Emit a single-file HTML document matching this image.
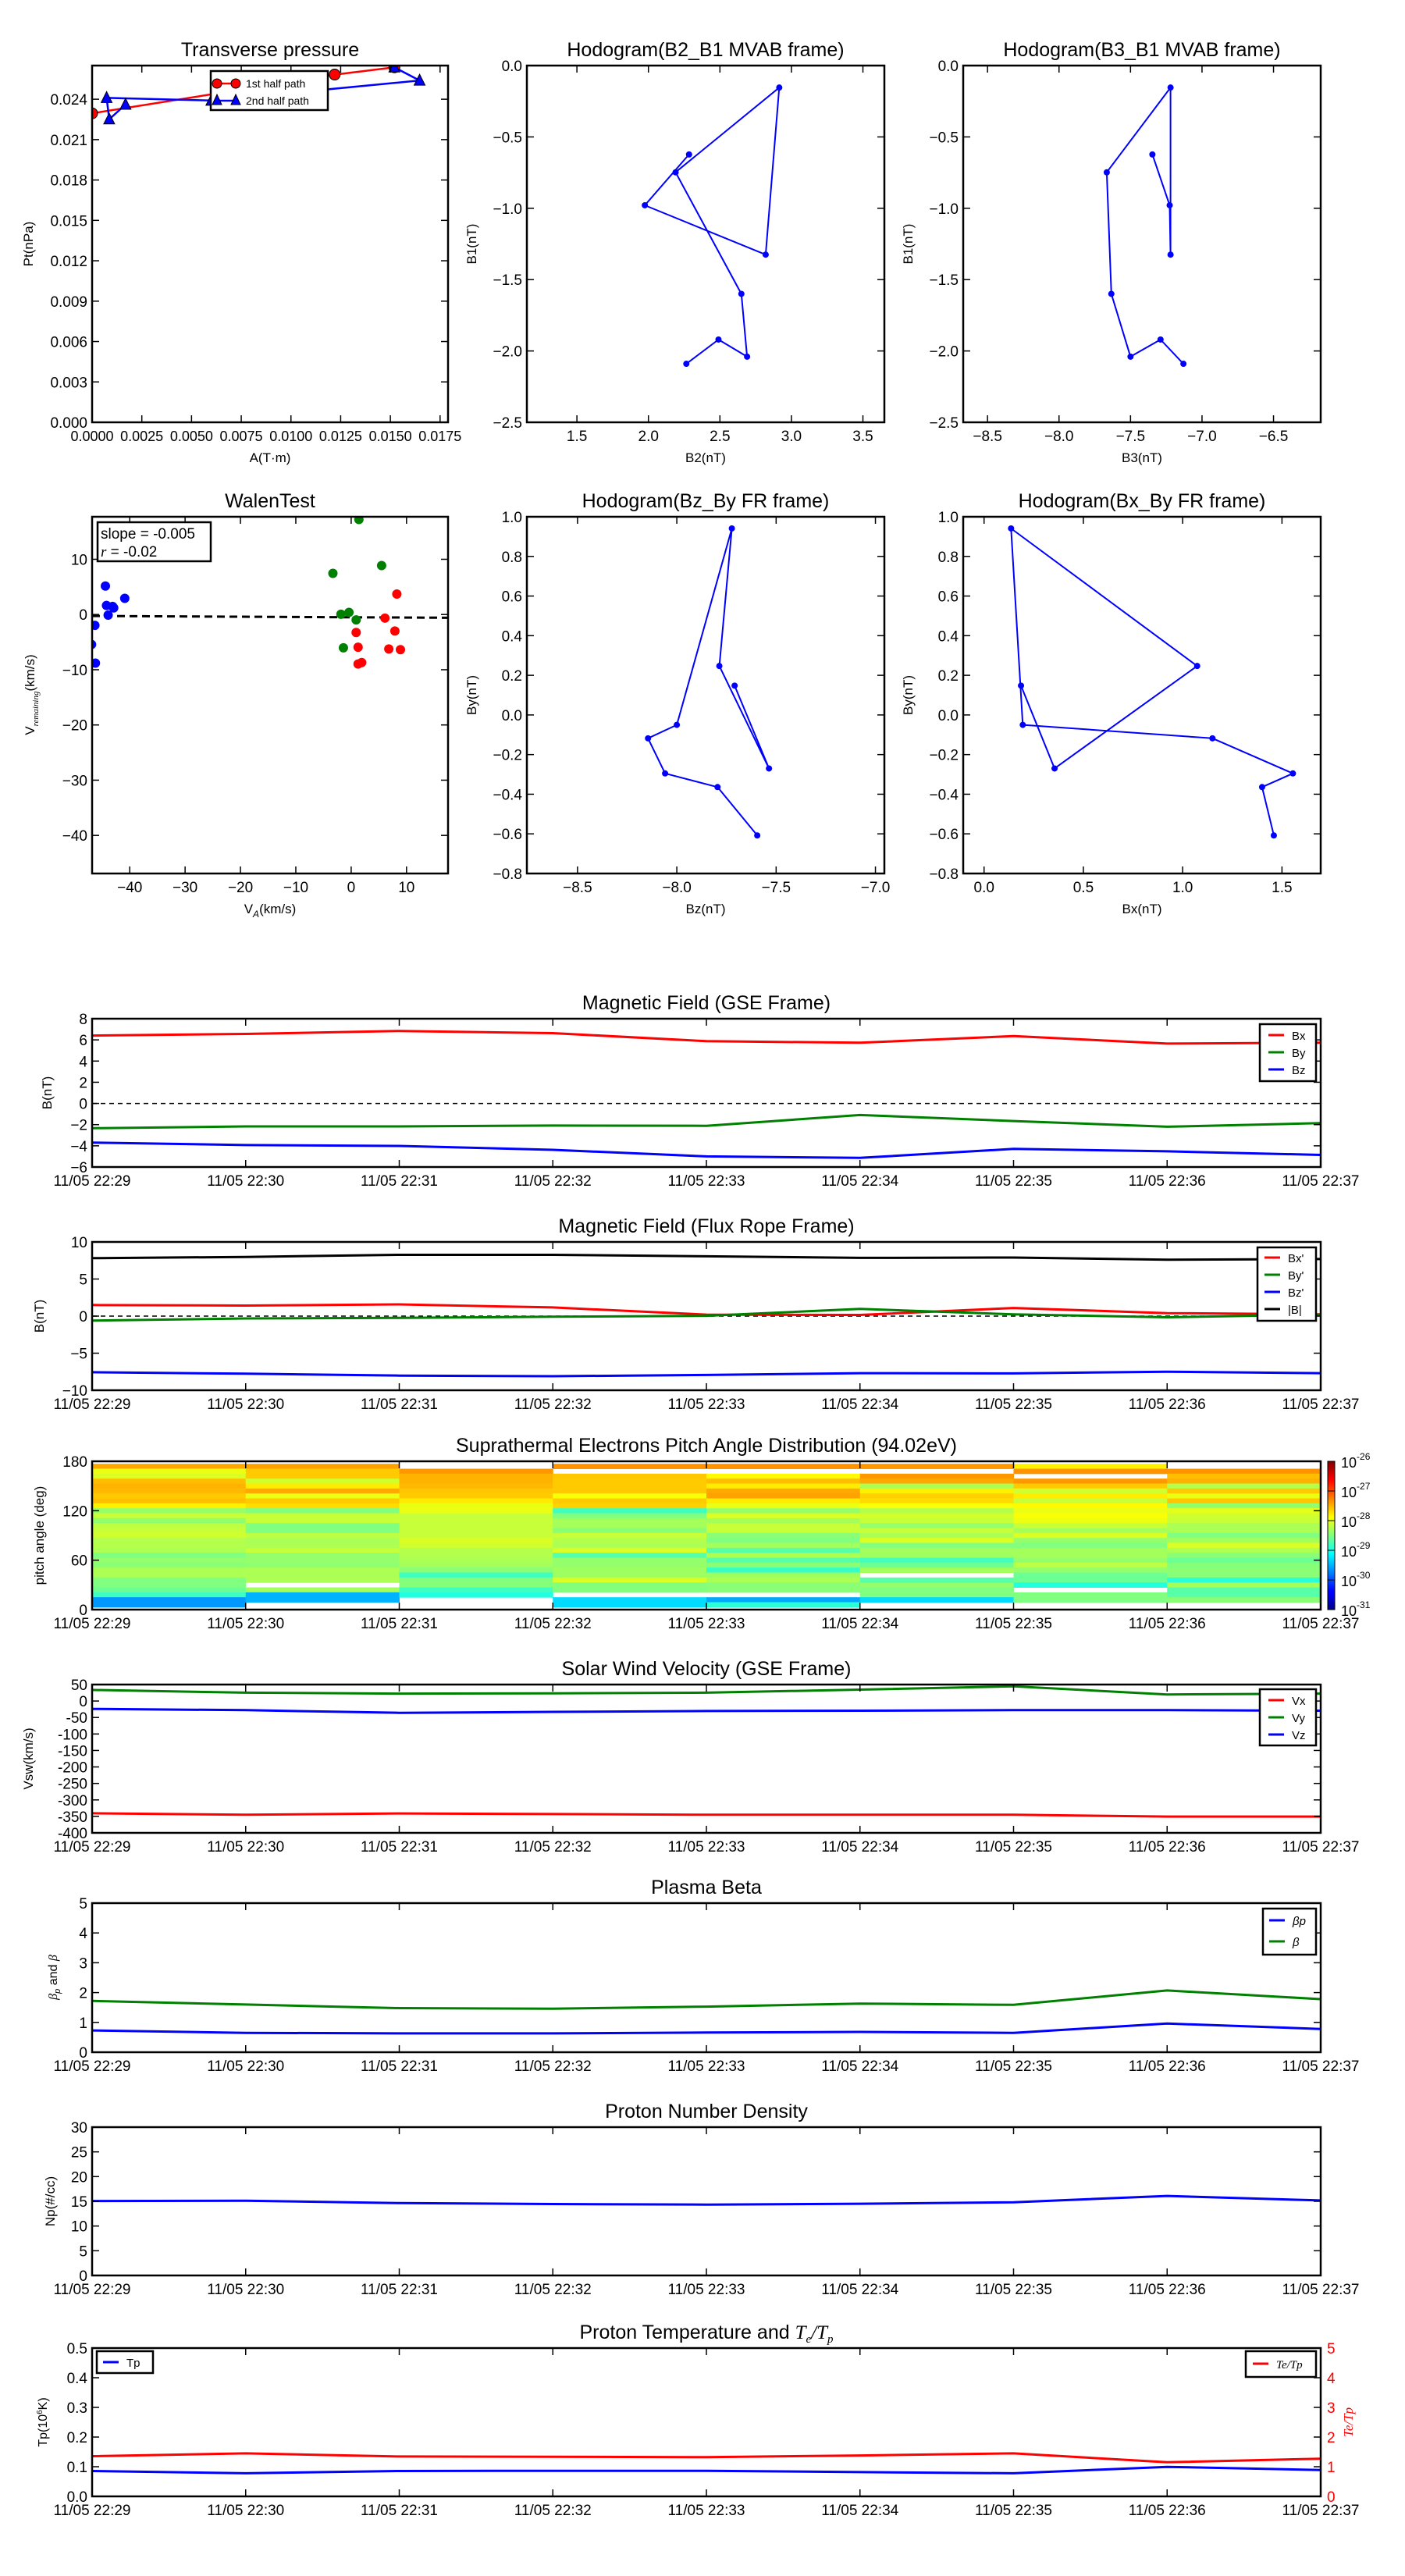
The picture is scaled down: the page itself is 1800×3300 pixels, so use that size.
<!DOCTYPE html>
<html><head><meta charset="utf-8"><title>Flux rope analysis figure</title>
<style>
html,body{margin:0;padding:0;background:#fff;}
svg{display:block;font-family:"Liberation Sans",sans-serif;}
</style></head>
<body>
<svg id="fig" xmlns="http://www.w3.org/2000/svg" width="1800" height="3300" viewBox="0 0 1800 3300">
<defs>
<linearGradient id="jetgrad" x1="0" y1="1" x2="0" y2="0">
<stop offset="0" stop-color="#00007f"/><stop offset="0.11" stop-color="#0000ff"/><stop offset="0.125" stop-color="#0000ff"/>
<stop offset="0.375" stop-color="#00ffff"/><stop offset="0.5" stop-color="#80ff80"/><stop offset="0.625" stop-color="#ffff00"/>
<stop offset="0.875" stop-color="#ff0000"/><stop offset="1" stop-color="#7f0000"/>
</linearGradient>
</defs>
</svg>
<script>
// ---------------- DATA ----------------
// Transverse pressure
const pt1A=[0.0,0.0122,0.0152];
const pt1P=[0.02295,0.02583,0.02637];
const pt2A=[0.0152,0.01647,0.0060,0.00073,0.00086,0.00168];
const pt2P=[0.02637,0.02539,0.0239,0.0241,0.02251,0.0236];
// MVAB hodograms
const mvB1=[-0.623,-0.979,-1.325,-0.154,-0.748,-1.60,-2.04,-1.92,-2.09];
const mvB2=[2.284,1.975,2.82,2.915,2.19,2.65,2.69,2.49,2.265];
const mvB3=[-7.347,-7.226,-7.22,-7.22,-7.666,-7.634,-7.5,-7.29,-7.13];
// Walen test
const walBlueX=[-44.4,-40.9,-44.2,-43.1,-42.9,-43.9,-46.3,-46.9,-46.2];
const walBlueY=[5.16,2.93,1.63,1.47,1.2,-0.11,-1.96,-5.43,-8.8];
const walGreenX=[1.4,-3.3,5.5,-1.85,-0.4,0.9,-1.4];
const walGreenY=[17.2,7.45,8.86,0.05,0.38,-0.98,-6.03];
const walRedX=[8.25,6.1,7.9,0.9,1.25,6.8,8.9,1.9,1.25];
const walRedY=[3.7,-0.65,-2.99,-3.26,-5.92,-6.25,-6.36,-8.7,-8.97];
const walSlope=-0.005;
const walIntercept=-0.5;
// FR hodograms
const frBz=[-7.709,-7.536,-7.786,-7.723,-8.0,-8.145,-8.059,-7.795,-7.595];
const frBy=[0.148,-0.27,0.247,0.941,-0.05,-0.118,-0.295,-0.364,-0.608];
const frBx=[0.186,0.355,1.073,0.136,0.195,1.15,1.555,1.4,1.459];
// Time series (minute index 0..8 = 22:29..22:37)
const timeLabels=["11/05 22:29","11/05 22:30","11/05 22:31","11/05 22:32","11/05 22:33","11/05 22:34","11/05 22:35","11/05 22:36","11/05 22:37"];
const gseBx=[6.41,6.56,6.84,6.64,5.88,5.73,6.36,5.65,5.73];
const gseBy=[-2.34,-2.17,-2.17,-2.09,-2.11,-1.09,-1.66,-2.2,-1.86];
const gseBz=[-3.69,-3.93,-4.01,-4.38,-5.0,-5.14,-4.29,-4.52,-4.86];
const frpBx=[1.5,1.42,1.58,1.17,0.2,0.16,1.09,0.40,0.24];
const frpBy=[-0.61,-0.32,-0.24,-0.08,0.04,0.97,0.24,-0.16,0.2];
const frpBz=[-7.57,-7.77,-8.02,-8.1,-7.94,-7.69,-7.73,-7.49,-7.69];
const frpBt=[7.81,7.98,8.26,8.26,8.06,7.85,7.89,7.61,7.69];
// PAD log10 flux, columns (8 minutes), each top(177deg) -> bottom(3deg)
const padCols=[
[-27.45,-27.97,-28.05,-27.56,-27.5,-27.53,-27.62,-27.56,-27.8,-28.4,-28.15,-28.42,-28.2,-28.15,-28.1,-28.25,-28.25,-28.28,-28.5,-28.4,-28.45,-28.28,-28.28,-28.5,-28.5,-28.6,-28.82,-29.63,-29.63],
[-27.42,-27.62,-27.62,-28.1,-27.78,-27.45,-27.97,-27.62,-27.7,-28.5,-28.15,-28.15,-28.5,-28.5,-28.2,-28.28,-28.28,-28.15,-28.4,-28.4,-28.42,-28.28,-28.28,-28.28,null,-28.32,-29.5,-29.5,null],
[null,-27.37,-27.5,-27.5,-27.53,-27.6,-27.62,-27.78,-27.97,-27.97,-28.15,-28.15,-28.15,-28.15,-28.15,-28.05,-28.1,-28.25,-28.25,-28.28,-28.32,-28.45,-28.82,-28.48,-28.48,-28.82,-28.97,null,null],
[-27.35,null,-27.6,-27.62,-27.62,-27.62,-27.9,-27.62,-27.65,-28.82,-28.5,-28.32,-28.32,-28.45,-28.15,-28.25,-28.28,-28.05,-28.7,-28.4,-28.4,-28.35,-28.35,-28.05,-28.48,-28.48,null,-29.3,-29.3],
[-27.35,null,-27.85,-27.56,-27.78,-27.45,-27.42,-27.78,-27.97,-28.4,-28.05,-28.32,-28.15,-28.15,-28.45,-28.5,-28.32,-28.7,-28.28,-28.7,-28.45,-28.87,-28.35,-28.28,-28.45,-28.45,null,-29.55,-28.92],
[-27.37,null,-27.37,-27.45,-28.28,-27.8,-27.65,-27.7,-27.9,-28.25,-28.1,-28.15,-28.4,-28.15,-28.28,-28.05,-28.5,-28.32,-28.35,-28.8,-28.6,-28.32,null,-28.7,-28.4,-28.5,-28.5,-29.3,null],
[-27.8,-27.35,null,-27.37,-27.62,-28.1,-27.78,-28.15,-27.85,-27.97,-27.9,-27.97,-28.15,-28.32,-28.05,-28.4,-28.5,-28.32,-28.32,-28.4,-28.2,-28.4,-28.6,-28.6,-28.95,null,-28.5,-28.5,null],
[null,-27.35,-27.56,-27.5,-28.25,-27.62,-27.97,-27.6,-28.4,-28.0,-28.1,-28.15,-28.28,-28.28,-28.5,-28.32,-28.05,-28.28,-28.45,-28.6,-28.48,-28.45,-28.45,-28.92,-28.32,-28.7,-28.7,-28.45,null]
];
const swVx=[-340.5,-345,-341,-343,-345,-345,-345,-350.5,-350.5];
const swVy=[33.6,25.4,22.6,23.5,25.4,34.5,44.5,19.9,22.6];
const swVz=[-23.9,-27.6,-35.8,-33,-30.3,-29.4,-27.6,-27.6,-29.4];
const betaP=[0.73,0.65,0.63,0.63,0.66,0.68,0.65,0.96,0.78];
const betaT=[1.72,1.6,1.48,1.46,1.53,1.63,1.59,2.07,1.78];
const npDens=[15.06,15.12,14.64,14.45,14.33,14.51,14.81,16.09,15.18];
const tpTemp=[0.0854,0.078,0.0854,0.0863,0.0863,0.0818,0.078,0.0995,0.0889];
const teTp=[1.356,1.45,1.345,1.338,1.32,1.38,1.45,1.15,1.27];

// ---------------- DRAWING ----------------
const NS='http://www.w3.org/2000/svg';
const svg=document.getElementById('fig');
let clipN=0;
function mk(tag,attrs,parent){const e=document.createElementNS(NS,tag);for(const k in attrs)e.setAttribute(k,attrs[k]);(parent||svg).appendChild(e);return e;}
function txt(parent,x,y,s,size,anchor,fill){const t=mk('text',{x:x,y:y,'font-size':size,'text-anchor':anchor||'middle',fill:fill||'#000'},parent);t.textContent=s;return t;}
function range(a,b,st){const r=[];for(let v=a;v<=b+st*1e-6;v+=st)r.push(Math.round(v*1e6)/1e6);return r;}
function fmt(v,d){const s=Math.abs(v).toFixed(d);return (v<0?'\u2212':'')+s;}

function makeAxes(o){
  const g=mk('g',{});
  
  
  const sx=v=>o.x0+(v-o.xmin)/(o.xmax-o.xmin)*(o.x1-o.x0);
  const sy=v=>o.y1-(v-o.ymin)/(o.ymax-o.ymin)*(o.y1-o.y0);
  const id='clip'+(clipN++);
  const cp=mk('clipPath',{id:id},g);
  mk('rect',{x:o.x0,y:o.y0,width:o.x1-o.x0,height:o.y1-o.y0},cp);
  const plot=mk('g',{'clip-path':'url(#'+id+')'},g);
  
  
  return {g,plot,sx,sy,o};
}
function finishAxes(ax){
  const o=ax.o,g=ax.g;
  // ticks
  o.xticks.forEach((v,i)=>{
    const x=ax.sx(v);
    const t1=mk('line',{x1:x,x2:x,y1:o.y1,y2:o.y1-9,stroke:'#000','stroke-width':1.5},g);
    
    
    const t2=mk('line',{x1:x,x2:x,y1:o.y0,y2:o.y0+9,stroke:'#000','stroke-width':1.5},g);
    
    
    const l=txt(g,x,o.y1+24,o.xlabels[i],o.tickSize||19,'middle');
    
    
  });
  o.yticks.forEach((v,i)=>{
    const y=ax.sy(v);
    const t1=mk('line',{x1:o.x0,x2:o.x0+9,y1:y,y2:y,stroke:'#000','stroke-width':1.5},g);
    
    
    const t2=mk('line',{x1:o.x1,x2:o.x1-9,y1:y,y2:y,stroke:'#000','stroke-width':1.5},g);
    
    
    const l=txt(g,o.x0-6,y+7,o.ylabels[i],19,'end');
    
    
  });
  const fr=mk('rect',{x:o.x0,y:o.y0,width:o.x1-o.x0,height:o.y1-o.y0,fill:'none',stroke:'#000','stroke-width':2.5},g);
  
  
  const ti=txt(g,(o.x0+o.x1)/2,o.y0-12,o.title,25,'middle');
  
  
  if(o.titleMath){ti.textContent=o.title;const a=mk('tspan',{'font-family':'Liberation Serif','font-style':'italic'},ti);a.textContent='T';const b=mk('tspan',{'font-family':'Liberation Serif','font-style':'italic','font-size':15,dy:5},ti);b.textContent='e';const c=mk('tspan',{'font-family':'Liberation Serif','font-style':'italic',dy:-5},ti);c.textContent='/T';const d=mk('tspan',{'font-family':'Liberation Serif','font-style':'italic','font-size':15,dy:5},ti);d.textContent='p';}
  if(o.xlabel){
    const xl=txt(g,(o.x0+o.x1)/2,o.xlabelY,o.xlabel,17,'middle');
    
    
  }
  if(o.ylabel){
    const cy=(o.y0+o.y1)/2;
    const yl=txt(g,0,0,o.ylabel,17,'middle');
    yl.setAttribute('transform','translate('+o.ylabelX+','+cy+') rotate(-90)');
    
    
  }
}
function polyline(ax,xs,ys,color,w,name){
  const pts=xs.map((x,i)=>ax.sx(x).toFixed(1)+','+ax.sy(ys[i]).toFixed(1)).join(' ');
  const p=mk('polyline',{points:pts,fill:'none',stroke:color,'stroke-width':w,'stroke-linejoin':'round'},ax.plot);
  
  
  return p;
}
function dots(ax,xs,ys,color,r,name){
  xs.forEach((x,i)=>{
    const c=mk('circle',{cx:ax.sx(x),cy:ax.sy(ys[i]),r:r,fill:color},ax.plot);
    
    
  });
}
function legendBox(parent,x,y,w,h){
  const r=mk('rect',{x:x,y:y,width:w,height:h,fill:'#fff',stroke:'#000','stroke-width':2.5},parent);
  
  
}
function legendEntry(parent,x,y,color,label){
  const l=mk('line',{x1:x,x2:x+20,y1:y,y2:y,stroke:color,'stroke-width':3},parent);
  
  
  const t=txt(parent,x+30,y+6,label,15,'start');
  
  
  return t;
}

// ===== Row 1 =====
const Y0r1=84,Y1r1=541;
// Transverse pressure
{
const ax=makeAxes({name:'transverse-pressure-chart',x0:118,x1:574,y0:Y0r1,y1:Y1r1,xmin:0,xmax:0.0179,ymin:0,ymax:0.0265});
polyline(ax,pt1A,pt1P,'#f00',2.5,'first-half-path-line');
polyline(ax,pt2A,pt2P,'#00f',2.5,'second-half-path-line');
pt1A.forEach((a,i)=>{
  const c=mk('circle',{cx:ax.sx(a),cy:ax.sy(pt1P[i]),r:7,fill:'#f00',stroke:'#000','stroke-width':1},ax.plot);
  
  
});
pt2A.forEach((a,i)=>{
  const x=ax.sx(a),y=ax.sy(pt2P[i]);
  const t=mk('polygon',{points:(x)+','+(y-8)+' '+(x-7)+','+(y+6)+' '+(x+7)+','+(y+6),fill:'#00f',stroke:'#000','stroke-width':1},ax.plot);
  
  
});
ax.o.xticks=range(0,0.0175,0.0025);ax.o.xlabels=ax.o.xticks.map(v=>v.toFixed(4));
ax.o.yticks=range(0,0.024,0.003);ax.o.ylabels=ax.o.yticks.map(v=>v.toFixed(3));
ax.o.title='Transverse pressure';ax.o.xlabel='A(T\u00b7m)';ax.o.xlabelY=592;ax.o.ylabel='Pt(nPa)';ax.o.ylabelX=42;
ax.o.tickSize=18;
finishAxes(ax);
const lg=mk('g',{},ax.g);


legendBox(lg,270,91,150,50);
const l1=mk('line',{x1:278,x2:302,y1:107,y2:107,stroke:'#f00','stroke-width':2.5},lg);


[278,302].forEach(x=>{const c=mk('circle',{cx:x,cy:107,r:6,fill:'#f00',stroke:'#000','stroke-width':1},lg);

});
const t1=txt(lg,315,112,'1st half path',14,'start');


const l2=mk('line',{x1:278,x2:302,y1:129,y2:129,stroke:'#00f','stroke-width':2.5},lg);


[278,302].forEach(x=>{const p=mk('polygon',{points:x+','+121+' '+(x-6)+','+134+' '+(x+6)+','+134,fill:'#00f',stroke:'#000','stroke-width':1},lg);

});
const t2=txt(lg,315,134,'2nd half path',14,'start');


}
// Hodogram B2_B1
{
const ax=makeAxes({name:'hodogram-b2-b1-chart',x0:675,x1:1133,y0:Y0r1,y1:Y1r1,xmin:1.15,xmax:3.65,ymin:-2.5,ymax:0});
polyline(ax,mvB2,mvB1,'#00f',2,'hodogram-line');
dots(ax,mvB2,mvB1,'#00f',4,'hodogram-point');
ax.o.xticks=range(1.5,3.5,0.5);ax.o.xlabels=ax.o.xticks.map(v=>fmt(v,1));
ax.o.yticks=range(-2.5,0,0.5);ax.o.ylabels=ax.o.yticks.map(v=>fmt(v,1));
ax.o.title='Hodogram(B2_B1 MVAB frame)';ax.o.xlabel='B2(nT)';ax.o.xlabelY=592;ax.o.ylabel='B1(nT)';ax.o.ylabelX=610;
finishAxes(ax);
}
// Hodogram B3_B1
{
const ax=makeAxes({name:'hodogram-b3-b1-chart',x0:1234,x1:1692,y0:Y0r1,y1:Y1r1,xmin:-8.67,xmax:-6.17,ymin:-2.5,ymax:0});
polyline(ax,mvB3,mvB1,'#00f',2,'hodogram-line');
dots(ax,mvB3,mvB1,'#00f',4,'hodogram-point');
ax.o.xticks=range(-8.5,-6.5,0.5);ax.o.xlabels=ax.o.xticks.map(v=>fmt(v,1));
ax.o.yticks=range(-2.5,0,0.5);ax.o.ylabels=ax.o.yticks.map(v=>fmt(v,1));
ax.o.title='Hodogram(B3_B1 MVAB frame)';ax.o.xlabel='B3(nT)';ax.o.xlabelY=592;ax.o.ylabel='B1(nT)';ax.o.ylabelX=1169;
finishAxes(ax);
}
// ===== Row 2 =====
const Y0r2=662,Y1r2=1119;
// Walen test
{
const ax=makeAxes({name:'walen-test-chart',x0:118,x1:574,y0:Y0r2,y1:Y1r2,xmin:-46.8,xmax:17.5,ymin:-46.9,ymax:17.7});
const fx=[-46.8,17.5];
const fl=mk('line',{x1:ax.sx(fx[0]),y1:ax.sy(walSlope*fx[0]+walIntercept),x2:ax.sx(fx[1]),y2:ax.sy(walSlope*fx[1]+walIntercept),stroke:'#000','stroke-width':3,'stroke-dasharray':'10,6'},ax.plot);


dots(ax,walBlueX,walBlueY,'#00f',6,'walen-point-blue');
dots(ax,walGreenX,walGreenY,'#008000',6,'walen-point-green');
dots(ax,walRedX,walRedY,'#f00',6,'walen-point-red');
ax.o.xticks=range(-40,10,10);ax.o.xlabels=ax.o.xticks.map(v=>fmt(v,0));
ax.o.yticks=range(-40,10,10);ax.o.ylabels=ax.o.yticks.map(v=>fmt(v,0));
ax.o.title='WalenTest';
finishAxes(ax);
const xl=txt(ax.g,346,1170,'V',17,'middle');


const s1=mk('tspan',{'font-size':12,dy:5,'font-style':'italic'},xl);s1.textContent='A';
const s2=mk('tspan',{dy:-5},xl);s2.textContent='(km/s)';
const yl=txt(ax.g,0,0,'V',17,'middle');
yl.setAttribute('transform','translate(44,890) rotate(-90)');


const s3=mk('tspan',{'font-size':11,dy:5,'font-style':'italic','font-family':'Liberation Serif'},yl);s3.textContent='remaining';
const s4=mk('tspan',{dy:-5},yl);s4.textContent='(km/s)';
const lg=mk('g',{},ax.g);


legendBox(lg,125,669,145,50);
const a=txt(lg,129,690,'slope = -0.005',19,'start');


const b=txt(lg,129,713,'',19,'start');


const bi=mk('tspan',{'font-style':'italic','font-family':'Liberation Serif'},b);bi.textContent='r';
const bt=mk('tspan',{},b);bt.textContent=' = -0.02';
}
// Hodogram Bz_By FR
{
const ax=makeAxes({name:'hodogram-bz-by-chart',x0:675,x1:1133,y0:Y0r2,y1:Y1r2,xmin:-8.755,xmax:-6.955,ymin:-0.8,ymax:1.0});
polyline(ax,frBz,frBy,'#00f',2,'hodogram-line');
dots(ax,frBz,frBy,'#00f',4,'hodogram-point');
ax.o.xticks=range(-8.5,-7.0,0.5);ax.o.xlabels=ax.o.xticks.map(v=>fmt(v,1));
ax.o.yticks=range(-0.8,1.0,0.2);ax.o.ylabels=ax.o.yticks.map(v=>fmt(v,1));
ax.o.title='Hodogram(Bz_By FR frame)';ax.o.xlabel='Bz(nT)';ax.o.xlabelY=1170;ax.o.ylabel='By(nT)';ax.o.ylabelX=610;
finishAxes(ax);
}
// Hodogram Bx_By FR
{
const ax=makeAxes({name:'hodogram-bx-by-chart',x0:1234,x1:1692,y0:Y0r2,y1:Y1r2,xmin:-0.105,xmax:1.695,ymin:-0.8,ymax:1.0});
polyline(ax,frBx,frBy,'#00f',2,'hodogram-line');
dots(ax,frBx,frBy,'#00f',4,'hodogram-point');
ax.o.xticks=range(0,1.5,0.5);ax.o.xlabels=ax.o.xticks.map(v=>fmt(v,1));
ax.o.yticks=range(-0.8,1.0,0.2);ax.o.ylabels=ax.o.yticks.map(v=>fmt(v,1));
ax.o.title='Hodogram(Bx_By FR frame)';ax.o.xlabel='Bx(nT)';ax.o.xlabelY=1170;ax.o.ylabel='By(nT)';ax.o.ylabelX=1169;
finishAxes(ax);
}
// ===== Time series =====
const minutes=[0,1,2,3,4,5,6,7,8];
function tsAxes(name,y0,y1,ymin,ymax){
  const ax=makeAxes({name:name,x0:118,x1:1692,y0:y0,y1:y1,xmin:0,xmax:8,ymin:ymin,ymax:ymax});
  ax.o.xticks=minutes;ax.o.xlabels=timeLabels;
  return ax;
}
function zeroLine(ax){
  const z=mk('line',{x1:ax.o.x0,x2:ax.o.x1,y1:ax.sy(0),y2:ax.sy(0),stroke:'#000','stroke-width':1.5,'stroke-dasharray':'6,5'},ax.plot);
  
  
}
// GSE
{
const ax=tsAxes('magnetic-field-gse-chart',1305,1495,-6,8);
zeroLine(ax);
polyline(ax,minutes,gseBx,'#f00',3,'bx-line');
polyline(ax,minutes,gseBy,'#008000',3,'by-line');
polyline(ax,minutes,gseBz,'#00f',3,'bz-line');
ax.o.yticks=range(-6,8,2);ax.o.ylabels=ax.o.yticks.map(v=>fmt(v,0));
ax.o.title='Magnetic Field (GSE Frame)';ax.o.ylabel='B(nT)';ax.o.ylabelX=66;
finishAxes(ax);
const lg=mk('g',{},ax.g);


legendBox(lg,1614,1312,72,73);
legendEntry(lg,1625,1326,'#f00','Bx');
legendEntry(lg,1625,1348,'#008000','By');
legendEntry(lg,1625,1370,'#00f','Bz');
}
// Flux rope frame
{
const ax=tsAxes('magnetic-field-fr-chart',1591,1781,-10,10);
zeroLine(ax);
polyline(ax,minutes,frpBt,'#000',3,'btotal-line');
polyline(ax,minutes,frpBx,'#f00',3,'bx-prime-line');
polyline(ax,minutes,frpBy,'#008000',3,'by-prime-line');
polyline(ax,minutes,frpBz,'#00f',3,'bz-prime-line');
ax.o.yticks=range(-10,10,5);ax.o.ylabels=ax.o.yticks.map(v=>fmt(v,0));
ax.o.title='Magnetic Field (Flux Rope Frame)';ax.o.ylabel='B(nT)';ax.o.ylabelX=56;
finishAxes(ax);
const lg=mk('g',{},ax.g);


legendBox(lg,1611,1598,75,94);
legendEntry(lg,1620,1611,'#f00',"Bx'");
legendEntry(lg,1620,1633,'#008000',"By'");
legendEntry(lg,1620,1655,'#00f',"Bz'");
legendEntry(lg,1620,1677,'#000','|B|');
}
// PAD heatmap
function jet(t){const c=v=>Math.round(255*Math.max(0,Math.min(1,v)));
  return 'rgb('+c(Math.min(4*t-1.5,-4*t+4.5))+','+c(Math.min(4*t-0.5,-4*t+3.5))+','+c(Math.min(4*t+0.5,-4*t+2.5))+')';}
{
const ax=tsAxes('pitch-angle-distribution-chart',1872,2062,0,180);
padCols.forEach((col,ci)=>{
  col.forEach((v,ri)=>{
    if(v===null)return;
    const hi=177-6*ri,lo=hi-6;
    const t=(v+31)/5;
    const r=mk('rect',{x:ax.sx(ci),y:ax.sy(hi),width:ax.sx(ci+1)-ax.sx(ci)+0.5,height:ax.sy(lo)-ax.sy(hi)+0.5,fill:jet(t)},ax.plot);
    
    
  });
});
ax.o.yticks=[0,60,120,180];ax.o.ylabels=['0','60','120','180'];
ax.o.title='Suprathermal Electrons Pitch Angle Distribution (94.02eV)';ax.o.ylabel='pitch angle (deg)';ax.o.ylabelX=56;
finishAxes(ax);
const cb=mk('g',{});


const cr=mk('rect',{x:1701,y:1872,width:9,height:190,fill:'url(#jetgrad)',stroke:'#000','stroke-width':1},cb);


const exps=[-31,-30,-29,-28,-27,-26];
exps.forEach((e,i)=>{
  const y=2062-i*38;
  const tk=mk('line',{x1:1701,x2:1710,y1:y,y2:y,stroke:'#000','stroke-width':1},cb);
  
  
  const t=txt(cb,1718,y+8,'10',18,'start');
  
  
  const s=mk('tspan',{'font-size':12,dy:-10},t);s.textContent=String(e);
});
}
// Solar wind velocity
{
const ax=tsAxes('solar-wind-velocity-chart',2158,2348,-400,50);
polyline(ax,minutes,swVx,'#f00',3,'vx-line');
polyline(ax,minutes,swVy,'#008000',3,'vy-line');
polyline(ax,minutes,swVz,'#00f',3,'vz-line');
ax.o.yticks=range(-400,50,50);ax.o.ylabels=ax.o.yticks.map(v=>(v<0?'-':'')+Math.abs(v));
ax.o.title='Solar Wind Velocity (GSE Frame)';ax.o.ylabel='Vsw(km/s)';ax.o.ylabelX=42;
finishAxes(ax);
const lg=mk('g',{},ax.g);


legendBox(lg,1614,2164,72,72);
legendEntry(lg,1625,2178,'#f00','Vx');
legendEntry(lg,1625,2200,'#008000','Vy');
legendEntry(lg,1625,2222,'#00f','Vz');
}
// Plasma beta
{
const ax=tsAxes('plasma-beta-chart',2438,2629,0,5);
polyline(ax,minutes,betaT,'#008000',3,'beta-line');
polyline(ax,minutes,betaP,'#00f',3,'beta-p-line');
ax.o.yticks=range(0,5,1);ax.o.ylabels=ax.o.yticks.map(v=>String(v));
ax.o.title='Plasma Beta';
finishAxes(ax);
const yl=txt(ax.g,0,0,'',16,'middle');
yl.setAttribute('transform','translate(73,2533) rotate(-90)');


const a1=mk('tspan',{'font-style':'italic','font-family':'Liberation Serif'},yl);a1.textContent='\u03b2';
const a2=mk('tspan',{'font-size':11,dy:4,'font-style':'italic'},yl);a2.textContent='p';
const a3=mk('tspan',{dy:-4},yl);a3.textContent=' and ';
const a4=mk('tspan',{'font-style':'italic','font-family':'Liberation Serif'},yl);a4.textContent='\u03b2';
const lg=mk('g',{},ax.g);


legendBox(lg,1618,2445,68,59);
const e1=legendEntry(lg,1626,2460,'#00f','\u03b2p');
e1.setAttribute('font-style','italic');
const e2=legendEntry(lg,1626,2487,'#008000','\u03b2');
e2.setAttribute('font-style','italic');
}
// Proton density
{
const ax=tsAxes('proton-density-chart',2725,2915,0,30);
polyline(ax,minutes,npDens,'#00f',3,'density-line');
ax.o.yticks=range(0,30,5);ax.o.ylabels=ax.o.yticks.map(v=>String(v));
ax.o.title='Proton Number Density';ax.o.ylabel='Np(#/cc)';ax.o.ylabelX=70;
finishAxes(ax);
}
// Proton temperature
{
const ax=tsAxes('proton-temperature-chart',3008,3198,0,0.5);
const syR=v=>3198-v/5*190;
const pr=mk('polyline',{points:minutes.map((m,i)=>ax.sx(m).toFixed(1)+','+syR(teTp[i]).toFixed(1)).join(' '),fill:'none',stroke:'#f00','stroke-width':3},ax.plot);


polyline(ax,minutes,tpTemp,'#00f',3,'tp-line');
ax.o.yticks=range(0,0.5,0.1);ax.o.ylabels=ax.o.yticks.map(v=>v.toFixed(1));
ax.o.title='Proton Temperature and ';ax.o.titleMath=true;
finishAxes(ax);
[0,1,2,3,4,5].forEach(v=>{
  const t=txt(ax.g,1700,syR(v)+7,String(v),19,'start','#f00');
  
  
});
const yl=txt(ax.g,0,0,'Tp(10',16,'middle');
yl.setAttribute('transform','translate(60,3103) rotate(-90)');


const y1=mk('tspan',{'font-size':10,dy:-6},yl);y1.textContent='6';
const y2=mk('tspan',{dy:6},yl);y2.textContent='K)';
const yr=txt(ax.g,0,0,'',17,'middle','#f00');
yr.setAttribute('transform','translate(1733,3103) rotate(-90)');


yr.setAttribute('font-style','italic');
yr.setAttribute('font-family','Liberation Serif');
yr.textContent='Te/Tp';
const lg=mk('g',{},ax.g);


legendBox(lg,124,3012,72,28);
legendEntry(lg,132,3026,'#00f','Tp');
const lg2=mk('g',{},ax.g);


legendBox(lg2,1596,3012,90,33);
const e=legendEntry(lg2,1605,3028,'#f00','Te/Tp');
e.setAttribute('font-style','italic');
e.setAttribute('font-family','Liberation Serif');
}
</script>
</body></html>
